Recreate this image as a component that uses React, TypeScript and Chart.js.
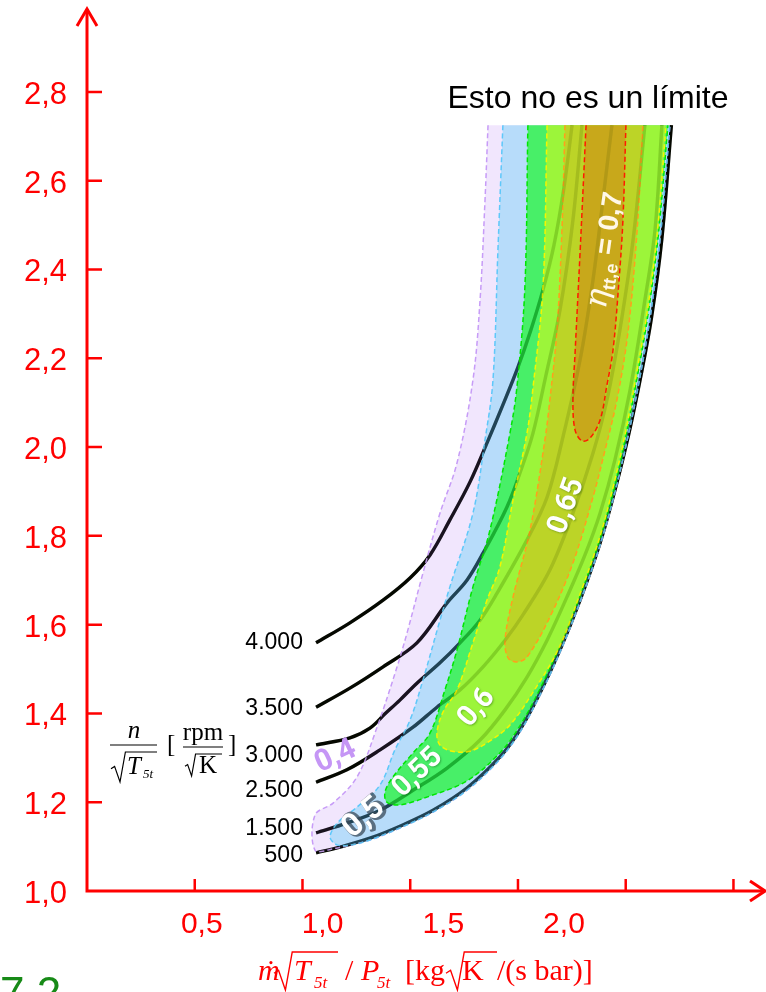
import React, { useEffect, useRef } from "react";
import { Chart, registerables } from "chart.js";

Chart.register(...registerables);

// ---------- axis ticks ----------
const xTickVals = [0.5, 1.0, 1.5, 2.0, 2.5, 3.0];
const xTickLabels = ["0,5", "1,0", "1,5", "2,0", "", ""];
const yTickVals = [1.0, 1.2, 1.4, 1.6, 1.8, 2.0, 2.2, 2.4, 2.6, 2.8];
const yTickLabels = ["1,0", "1,2", "1,4", "1,6", "1,8", "2,0", "2,2", "2,4", "2,6", "2,8"];

// ---------- speed lines n/sqrt(T5t) ----------
const speed500X = [1.063, 1.174, 1.313, 1.452, 1.606, 1.763, 1.916, 2.009, 2.102, 2.195, 2.288, 2.381, 2.450, 2.513, 2.571, 2.620, 2.667, 2.712];
const speed500Y = [1.086, 1.099, 1.119, 1.146, 1.182, 1.232, 1.302, 1.363, 1.446, 1.543, 1.655, 1.784, 1.903, 2.027, 2.162, 2.293, 2.466, 2.725];
const speed1500X = [1.063, 1.206, 1.360, 1.513, 1.671, 1.824, 1.940, 2.042, 2.135, 2.227, 2.311, 2.381, 2.450, 2.520, 2.589, 2.636, 2.668];
const speed1500Y = [1.131, 1.153, 1.182, 1.227, 1.277, 1.340, 1.408, 1.482, 1.565, 1.662, 1.757, 1.851, 1.971, 2.128, 2.331, 2.489, 2.725];
const speed2500X = [1.063, 1.206, 1.360, 1.513, 1.624, 1.731, 1.838, 1.940, 2.023, 2.148, 2.255, 2.348, 2.413, 2.473, 2.534, 2.589];
const speed2500Y = [1.245, 1.273, 1.318, 1.369, 1.414, 1.453, 1.505, 1.565, 1.622, 1.723, 1.851, 1.986, 2.106, 2.264, 2.466, 2.725];
const speed3000X = [1.063, 1.220, 1.313, 1.383, 1.452, 1.531, 1.638, 1.731, 1.824, 1.903, 2.042, 2.135, 2.209, 2.288, 2.348, 2.394, 2.436];
const speed3000Y = [1.329, 1.345, 1.367, 1.399, 1.430, 1.468, 1.514, 1.559, 1.610, 1.671, 1.791, 1.887, 2.023, 2.196, 2.376, 2.556, 2.725];
const speed3500X = [1.063, 1.220, 1.374, 1.531, 1.671, 1.763, 1.838, 1.949, 2.019, 2.070, 2.125, 2.195, 2.255, 2.297];
const speed3500Y = [1.414, 1.457, 1.505, 1.559, 1.649, 1.700, 1.761, 1.865, 1.955, 2.032, 2.151, 2.309, 2.511, 2.725];
const speed4000X = [1.063, 1.220, 1.374, 1.499, 1.592, 1.684, 1.777, 1.856, 1.930, 2.000, 2.060, 2.116, 2.167, 2.213, 2.251];
const speed4000Y = [1.559, 1.604, 1.655, 1.705, 1.757, 1.836, 1.921, 2.009, 2.095, 2.180, 2.264, 2.354, 2.455, 2.583, 2.725];

const speedLabels = ["4.000", "3.500", "3.000", "2.500", "1.500", "500"];
const speedLabelY = [1.563, 1.414, 1.309, 1.230, 1.144, 1.083];
const speedLabelX = 1.002;

// ---------- efficiency contours (closed outlines) ----------
const chokeX = [1.313, 1.452, 1.606, 1.763, 1.916, 2.009, 2.102, 2.195, 2.288, 2.381, 2.450, 2.510, 2.566, 2.613, 2.659, 2.705];
const chokeY = [1.115, 1.142, 1.178, 1.227, 1.297, 1.358, 1.441, 1.538, 1.651, 1.779, 1.899, 2.023, 2.158, 2.291, 2.466, 2.725];

const eff40LeftX = [1.861, 1.847, 1.824, 1.791, 1.717, 1.638, 1.559, 1.485, 1.439, 1.346, 1.253, 1.142, 1.058, 1.058, 1.142];
const eff40LeftY = [2.725, 2.556, 2.331, 2.151, 1.964, 1.851, 1.716, 1.581, 1.505, 1.369, 1.257, 1.198, 1.171, 1.092, 1.095];

const eff50LeftX = [1.930, 1.907, 1.884, 1.847, 1.791, 1.684, 1.638, 1.559, 1.499, 1.429, 1.360, 1.253, 1.165, 1.128, 1.160, 1.230];
const eff50LeftY = [2.725, 2.444, 2.151, 2.016, 1.851, 1.685, 1.610, 1.475, 1.385, 1.318, 1.239, 1.189, 1.155, 1.122, 1.104, 1.104];

const eff55X = [2.046, 2.032, 1.995, 1.963, 1.870, 1.791, 1.717, 1.661, 1.592, 1.513, 1.420, 1.383, 1.392, 1.452, 1.592, 1.763, 1.916, 2.009, 2.102, 2.195, 2.288, 2.381, 2.450, 2.506, 2.557, 2.603, 2.650, 2.696];
const eff55Y = [2.725, 2.360, 2.135, 2.032, 1.813, 1.685, 1.543, 1.453, 1.356, 1.311, 1.257, 1.223, 1.200, 1.194, 1.214, 1.248, 1.311, 1.372, 1.455, 1.552, 1.664, 1.793, 1.912, 2.036, 2.167, 2.297, 2.471, 2.725];

const eff60X = [2.135, 2.116, 2.070, 2.042, 1.977, 1.916, 1.856, 1.791, 1.717, 1.652, 1.624, 1.638, 1.694, 1.777, 1.870, 1.963, 2.070, 2.190, 2.288, 2.381, 2.445, 2.501, 2.552, 2.599, 2.645, 2.687];
const eff60Y = [2.725, 2.360, 2.135, 2.032, 1.881, 1.730, 1.655, 1.559, 1.453, 1.403, 1.356, 1.329, 1.315, 1.315, 1.338, 1.374, 1.448, 1.547, 1.669, 1.799, 1.917, 2.038, 2.171, 2.302, 2.475, 2.725];

const eff65X = [2.218, 2.204, 2.181, 2.148, 2.125, 2.056, 1.977, 1.940, 1.954, 1.995, 2.042, 2.148, 2.255, 2.348, 2.404, 2.459, 2.510, 2.552, 2.580];
const eff65Y = [2.725, 2.489, 2.264, 2.106, 2.016, 1.813, 1.662, 1.565, 1.525, 1.516, 1.527, 1.617, 1.739, 1.887, 1.993, 2.106, 2.257, 2.482, 2.725];

const eff70X = [2.316, 2.288, 2.265, 2.255, 2.265, 2.297, 2.334, 2.381, 2.413, 2.441, 2.469, 2.487, 2.501];
const eff70Y = [2.725, 2.437, 2.212, 2.106, 2.038, 2.014, 2.020, 2.061, 2.140, 2.218, 2.376, 2.511, 2.725];

const effLabels = ["0,4", "0,5", "0,55", "0,6", "0,65"];
const effLabelX = [1.155, 1.285, 1.536, 1.810, 2.227];
const effLabelY = [1.302, 1.164, 1.266, 1.412, 1.867];

const etaLabelPos = { x: 2.404, y: 2.444 };
const noteText = "Esto no es un límite";
const notePos = { x: 2.325, y: 2.788 };

// ---------- styles ----------
const RED = "#ff0000";
const SANS = '"Liberation Sans", Arial, sans-serif';
const SERIF = '"Liberation Serif", "Times New Roman", serif';
const X_MAX = 3.151;
const Y_MAX = 2.989;
const effLabelAngle = [-25, -40, -44, -50, -70];
const effLabelSize = [30, 32, 29, 29, 29];

const pts = (xs: number[], ys: number[]) => xs.map((x, i) => ({ x, y: ys[i] }));
const closed = (ax: number[], ay: number[], bx: number[] = [], by: number[] = []) =>
  pts(ax.concat(bx), ay.concat(by));

const polyFillPlugin = {
  id: "polyFill",
  beforeDatasetDraw(chart: any, args: any) {
    const ds = chart.data.datasets[args.index];
    if (!ds.polyFill) return;
    const line = args.meta.dataset;
    if (!line) return;
    const ctx = chart.ctx;
    if (line.updateControlPoints) line.updateControlPoints(chart.chartArea, "x");
    ctx.save();
    ctx.beginPath();
    line.path(ctx);
    ctx.closePath();
    ctx.fillStyle = ds.polyFill;
    ctx.fill();
    ctx.restore();
  },
};

function radical(ctx: CanvasRenderingContext2D, x: number, yTop: number, yBot: number, barEnd: number) {
  const h = yBot - yTop;
  ctx.beginPath();
  ctx.moveTo(x, yTop + h * 0.56);
  ctx.lineTo(x + h * 0.12, yTop + h * 0.48);
  ctx.lineTo(x + h * 0.3, yBot);
  ctx.lineTo(x + h * 0.48, yTop);
  ctx.lineTo(barEnd, yTop);
  ctx.stroke();
}

const decorPlugin = {
  id: "decor",
  afterDatasetsDraw(chart: any) {
    const ctx: CanvasRenderingContext2D = chart.ctx;
    const xs = chart.scales.x;
    const ys = chart.scales.y;
    const ox = xs.getPixelForValue(0);
    const oy = ys.getPixelForValue(1.0);
    const xEnd = xs.getPixelForValue(X_MAX) - 1;
    const yEnd = ys.getPixelForValue(Y_MAX);
    ctx.save();

    // axes
    ctx.strokeStyle = RED;
    ctx.lineWidth = 3;
    ctx.lineCap = "butt";
    ctx.beginPath();
    ctx.moveTo(ox, oy);
    ctx.lineTo(xEnd, oy);
    ctx.moveTo(ox, oy + 1.5);
    ctx.lineTo(ox, yEnd + 1);
    ctx.stroke();
    ctx.lineJoin = "miter";
    ctx.beginPath();
    ctx.moveTo(xEnd - 15, oy - 10);
    ctx.lineTo(xEnd, oy);
    ctx.lineTo(xEnd - 15, oy + 10);
    ctx.moveTo(ox - 10, yEnd + 18);
    ctx.lineTo(ox, yEnd + 1);
    ctx.lineTo(ox + 10, yEnd + 18);
    ctx.stroke();

    // ticks
    ctx.lineWidth = 2.5;
    ctx.beginPath();
    xTickVals.forEach((v) => {
      const p = xs.getPixelForValue(v);
      ctx.moveTo(p, oy);
      ctx.lineTo(p, oy - 12);
    });
    yTickVals.forEach((v) => {
      if (v === 1.0) return;
      const p = ys.getPixelForValue(v);
      ctx.moveTo(ox, p);
      ctx.lineTo(ox + 15, p);
    });
    ctx.stroke();

    // tick labels
    ctx.fillStyle = RED;
    ctx.font = `31px ${SANS}`;
    ctx.textAlign = "right";
    ctx.textBaseline = "alphabetic";
    yTickVals.forEach((v, i) => {
      const p = ys.getPixelForValue(v);
      ctx.fillText(yTickLabels[i], ox - 20, p + 12);
    });
    ctx.font = `30px ${SANS}`;
    ctx.textAlign = "center";
    xTickVals.forEach((v, i) => {
      if (!xTickLabels[i]) return;
      const p = xs.getPixelForValue(v) + 26 * v - 6;
      ctx.fillText(xTickLabels[i], p, oy + 42);
    });

    // x axis title
    ctx.textAlign = "left";
    ctx.fillStyle = RED;
    ctx.strokeStyle = RED;
    ctx.lineWidth = 1.4;
    ctx.font = `italic 30px ${SERIF}`;
    ctx.fillText("ṁ", 258, 980);
    radical(ctx, 274, 952, 990, 338);
    ctx.fillText("T", 294, 980);
    ctx.font = `italic 17px ${SERIF}`;
    ctx.fillText("5t", 314, 988);
    ctx.font = `30px ${SERIF}`;
    ctx.fillText("/", 345, 980);
    ctx.font = `italic 30px ${SERIF}`;
    ctx.fillText("P", 361, 980);
    ctx.font = `italic 17px ${SERIF}`;
    ctx.fillText("5t", 377, 988);
    ctx.font = `30px ${SERIF}`;
    ctx.fillText("[kg", 405, 980);
    radical(ctx, 446, 952, 990, 497);
    ctx.fillText("K", 462, 980);
    ctx.fillText("/(s bar)]", 497, 980);

    // y axis title (black serif fraction)
    ctx.fillStyle = "#000";
    ctx.strokeStyle = "#000";
    ctx.lineWidth = 1.2;
    ctx.font = `italic 25px ${SERIF}`;
    ctx.textAlign = "center";
    ctx.fillText("n", 134, 738);
    ctx.beginPath();
    ctx.moveTo(110, 745);
    ctx.lineTo(157, 745);
    ctx.stroke();
    radical(ctx, 111, 752, 782, 157);
    ctx.textAlign = "left";
    ctx.fillText("T", 127, 774);
    ctx.font = `italic 13px ${SERIF}`;
    ctx.fillText("5t", 143, 778);
    ctx.font = `25px ${SERIF}`;
    ctx.fillText("[", 167, 752);
    ctx.textAlign = "center";
    ctx.fillText("rpm", 203, 740);
    ctx.beginPath();
    ctx.moveTo(183, 747);
    ctx.lineTo(223, 747);
    ctx.stroke();
    radical(ctx, 185, 754, 776, 222);
    ctx.textAlign = "left";
    ctx.fillText("K", 199, 773);
    ctx.fillText("]", 228, 752);

    // speed labels
    ctx.font = `23px ${SANS}`;
    ctx.textAlign = "right";
    ctx.fillStyle = "#000";
    speedLabels.forEach((s, i) => {
      ctx.fillText(s, xs.getPixelForValue(speedLabelX), ys.getPixelForValue(speedLabelY[i]) + 8);
    });

    // note
    ctx.font = `32px ${SANS}`;
    ctx.textAlign = "center";
    ctx.fillText(noteText, xs.getPixelForValue(notePos.x), ys.getPixelForValue(notePos.y) + 11);

    // efficiency labels
    effLabels.forEach((s, i) => {
      ctx.save();
      ctx.translate(xs.getPixelForValue(effLabelX[i]), ys.getPixelForValue(effLabelY[i]));
      ctx.rotate((effLabelAngle[i] * Math.PI) / 180);
      ctx.font = `bold ${effLabelSize[i]}px "Roboto", ${SANS}`;
      ctx.textAlign = "center";
      ctx.textBaseline = "middle";
      if (i === 0) {
        ctx.fillStyle = "#c596f5";
        ctx.fillText(s, 0, 0);
      } else if (i === 1) {
        ctx.lineJoin = "round";
        ctx.strokeStyle = "rgba(60,75,90,0.75)";
        ctx.lineWidth = 3.5;
        ctx.strokeText(s, 1.5, 1.5);
        ctx.fillStyle = "#ffffff";
        ctx.fillText(s, 0, 0);
      } else {
        ctx.fillStyle = "#ffffff";
        ctx.shadowColor = "rgba(0,60,0,0.35)";
        ctx.shadowBlur = 2;
        ctx.shadowOffsetX = 1;
        ctx.shadowOffsetY = 1;
        ctx.fillText(s, 0, 0);
      }
      ctx.restore();
    });

    // eta label
    ctx.save();
    ctx.translate(xs.getPixelForValue(etaLabelPos.x), ys.getPixelForValue(etaLabelPos.y));
    ctx.rotate((-82 * Math.PI) / 180);
    ctx.fillStyle = "#fff8e8";
    ctx.textBaseline = "alphabetic";
    ctx.textAlign = "left";
    const f1 = `italic 32px "DejaVu Serif", ${SERIF}`;
    const f2 = `bold 18px ${SANS}`;
    const f3 = `bold 28px ${SANS}`;
    ctx.font = f1;
    const w1 = ctx.measureText("η").width;
    ctx.font = f2;
    const w2 = ctx.measureText("tt,e").width;
    ctx.font = f3;
    const w3 = ctx.measureText(" = 0,7").width;
    let x0 = -(w1 + w2 + w3) / 2;
    ctx.font = f1;
    ctx.fillText("η", x0, 9);
    x0 += w1;
    ctx.font = f2;
    ctx.fillText("tt,e", x0, 15);
    x0 += w2;
    ctx.font = f3;
    ctx.fillText(" = 0,7", x0, 9);
    ctx.restore();

    // figure number (cut at page bottom)
    ctx.fillStyle = "#178a17";
    ctx.font = `44px ${SANS}`;
    ctx.textAlign = "left";
    ctx.fillText("7.2", 0, 1008);

    ctx.restore();
  },
};

const speedSets = [
  [speed500X, speed500Y],
  [speed1500X, speed1500Y],
  [speed2500X, speed2500Y],
  [speed3000X, speed3000Y],
  [speed3500X, speed3500Y],
  [speed4000X, speed4000Y],
];

export default function App() {
  const ref = useRef<HTMLCanvasElement>(null);
  useEffect(() => {
    if (!ref.current) return;
    const region = (data: any[], border: string, fill: string, order: number) => ({
      data,
      borderColor: border,
      borderWidth: 1.5,
      borderDash: [5, 3],
      polyFill: fill,
      fill: false,
      tension: 0.35,
      pointRadius: 0,
      order,
    });
    const datasets: any[] = [];
    speedSets.forEach(([xsArr, ysArr]) => {
      datasets.push({
        data: pts(xsArr, ysArr),
        borderColor: "#000000",
        borderWidth: 3.4,
        fill: false,
        tension: 0.35,
        pointRadius: 0,
        order: 100,
      });
    });
    datasets.push(region(closed(eff40LeftX, eff40LeftY, chokeX, chokeY), "#c79cf7", "rgba(162,88,242,0.15)", 90));
    datasets.push(region(closed(eff50LeftX, eff50LeftY, chokeX, chokeY), "#5ec8fa", "rgba(51,197,243,0.30)", 80));
    datasets.push(region(pts(eff55X, eff55Y), "#00e600", "rgba(24,246,41,0.70)", 70));
    datasets.push(region(pts(eff60X, eff60Y), "#f5f500", "rgba(192,247,38,0.70)", 60));
    datasets.push(region(pts(eff65X, eff65Y), "#ff9f1c", "rgba(202,198,32,0.70)", 50));
    datasets.push(region(pts(eff70X, eff70Y), "#ff1a00", "rgba(205,149,23,0.70)", 40));
    speedSets.forEach(([xsArr, ysArr]) => {
      datasets.push({
        data: pts(xsArr, ysArr),
        borderColor: "rgba(40,60,0,0.13)",
        borderWidth: 3.4,
        fill: false,
        tension: 0.35,
        pointRadius: 0,
        order: 10,
      });
    });

    const chart = new Chart(ref.current, {
      type: "line",
      data: { datasets },
      options: {
        responsive: false,
        maintainAspectRatio: false,
        animation: false,
        devicePixelRatio: 1,
        events: [],
        layout: { padding: { left: 87, right: 0, top: 8, bottom: 101 } },
        plugins: { legend: { display: false }, tooltip: { enabled: false } },
        scales: {
          x: { type: "linear", min: 0, max: X_MAX, display: false },
          y: { type: "linear", min: 1.0, max: Y_MAX, display: false },
        },
      },
      plugins: [polyFillPlugin, decorPlugin],
    } as any);
    return () => chart.destroy();
  }, []);
  return (
    <div style={{ position: "absolute", left: 0, top: 0, width: 766, height: 992, background: "#fff" }}>
      <canvas ref={ref} width={766} height={992} style={{ display: "block" }} />
    </div>
  );
}
